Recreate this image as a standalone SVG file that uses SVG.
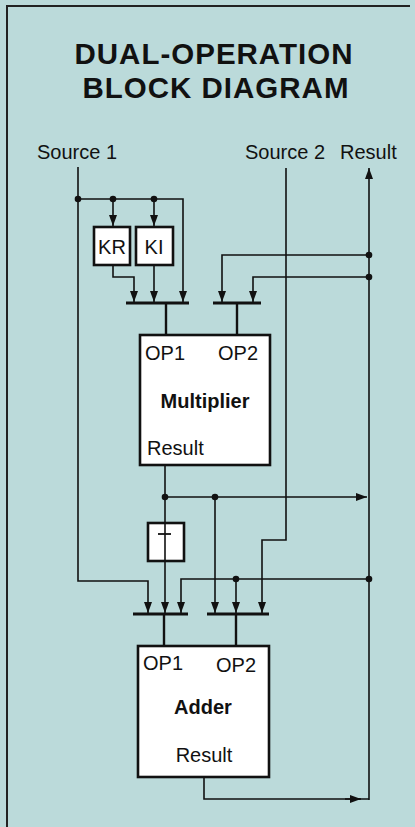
<svg xmlns="http://www.w3.org/2000/svg" width="415" height="827" viewBox="0 0 415 827">
<style>
text{font-family:"Liberation Sans",Arial,sans-serif;fill:#111}
.title{font-size:29.5px;font-weight:bold;text-anchor:middle;letter-spacing:1px}
.lbl{font-size:20px}
.bold{font-size:20px;font-weight:bold;text-anchor:middle}
.box{fill:#fff;stroke:#111;stroke-width:2.6}
.w{fill:none;stroke:#111;stroke-width:1.6}
.bar{stroke:#111;stroke-width:3.2}
.stem{stroke:#111;stroke-width:2.4}
.dot{fill:#111}
</style>
<defs>
<marker id="ah" markerUnits="userSpaceOnUse" markerWidth="12" markerHeight="9" refX="11" refY="4.5" orient="auto">
<path d="M0,0.5 L11,4.5 L0,8.5 z" fill="#111"/>
</marker>
</defs>
<rect x="0" y="0" width="415" height="827" fill="#bbdada"/>
<path d="M7,827 V6 H410" fill="none" stroke="#222" stroke-width="2"/>
<g id="title">
<text class="title" x="214" y="64">DUAL-OPERATION</text>
<text class="title" x="216" y="97.5">BLOCK DIAGRAM</text>
</g>
<g id="source1"><text class="lbl" x="37" y="159">Source 1</text></g>
<g id="source2"><text class="lbl" x="245" y="159">Source 2</text></g>
<g id="result"><text class="lbl" x="340" y="159">Result</text></g>
<g id="kr"><rect class="box" x="94" y="227" width="36" height="38"/><text class="lbl" x="112" y="254" text-anchor="middle">KR</text></g>
<g id="ki"><rect class="box" x="136" y="227" width="37" height="38"/><text class="lbl" x="154" y="254" text-anchor="middle">KI</text></g>
<g id="multiplier">
<rect class="box" x="140" y="335" width="130" height="130"/>
<text class="lbl" x="145" y="360">OP1</text>
<text class="lbl" x="218" y="360">OP2</text>
<text class="bold" x="205" y="408">Multiplier</text>
<text class="lbl" x="147" y="455">Result</text>
</g>
<g id="t">
<rect class="box" x="148" y="523" width="36" height="38"/>
<line x1="158" y1="534" x2="171" y2="534" stroke="#111" stroke-width="1.8"/>
</g>
<g id="adder">
<rect class="box" x="138" y="646" width="131" height="131"/>
<text class="lbl" x="143" y="670">OP1</text>
<text class="lbl" x="216" y="672">OP2</text>
<text class="bold" x="203" y="714">Adder</text>
<text class="lbl" x="204" y="762" text-anchor="middle">Result</text>
</g>
<g id="connectors">
<path class="w" d="M78,167 V581 H148 V613" marker-end="url(#ah)"/>
<path class="w" d="M78,199 H183 V302" marker-end="url(#ah)"/>
<path class="w" d="M113,199 V226" marker-end="url(#ah)"/>
<path class="w" d="M154,199 V226" marker-end="url(#ah)"/>
<path class="w" d="M113,265 V277 H134 V302" marker-end="url(#ah)"/>
<path class="w" d="M154,265 V302" marker-end="url(#ah)"/>
<line class="bar" x1="126" y1="303" x2="189" y2="303"/>
<line class="stem" x1="166" y1="303" x2="166" y2="335"/>
<line class="bar" x1="213" y1="303" x2="261" y2="303"/>
<line class="stem" x1="237" y1="303" x2="237" y2="335"/>
<path class="w" d="M369,255 H222 V302" marker-end="url(#ah)"/>
<path class="w" d="M369,277 H253 V302" marker-end="url(#ah)"/>
<path class="w" d="M286,168 V540 H262 V613" marker-end="url(#ah)"/>
<path class="w" d="M369,800 V168" marker-end="url(#ah)"/>
<path class="w" d="M165,465 V613" marker-end="url(#ah)"/>
<path class="w" d="M165,497 H367" marker-end="url(#ah)"/>
<path class="w" d="M215,497 V613" marker-end="url(#ah)"/>
<path class="w" d="M369,579 H181 V613" marker-end="url(#ah)"/>
<path class="w" d="M236,579 V613" marker-end="url(#ah)"/>
<line class="bar" x1="133" y1="614" x2="188" y2="614"/>
<line class="stem" x1="164" y1="614" x2="164" y2="646"/>
<line class="bar" x1="207" y1="614" x2="269" y2="614"/>
<line class="stem" x1="236" y1="614" x2="236" y2="646"/>
<path class="w" d="M204,777 V799 H369"/>
<path class="w" d="M345,799 H361" marker-end="url(#ah)"/>
<circle class="dot" cx="78" cy="199" r="3.3"/>
<circle class="dot" cx="113" cy="199" r="3.3"/>
<circle class="dot" cx="154" cy="199" r="3.3"/>
<circle class="dot" cx="369" cy="255" r="3.3"/>
<circle class="dot" cx="369" cy="277" r="3.3"/>
<circle class="dot" cx="165" cy="497" r="3.3"/>
<circle class="dot" cx="215" cy="497" r="3.3"/>
<circle class="dot" cx="236" cy="579" r="3.3"/>
<circle class="dot" cx="369" cy="579" r="3.3"/>
</g>
</svg>
